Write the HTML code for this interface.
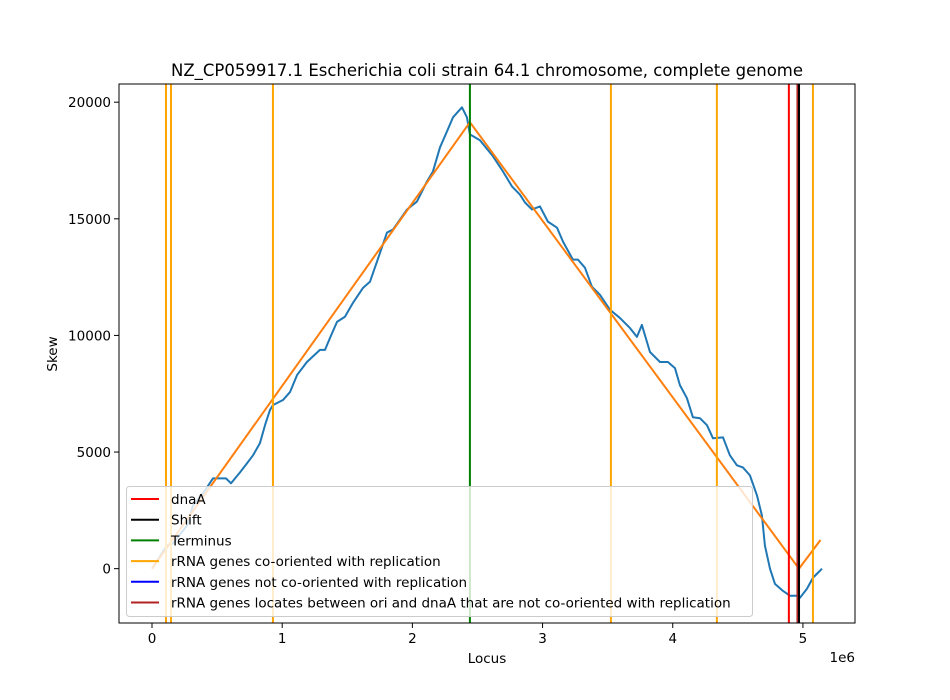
<!DOCTYPE html>
<html><head><meta charset="utf-8"><style>
body{margin:0;background:#fff;}
svg{display:block;font-family:"DejaVu Sans","Liberation Sans",sans-serif;}
</style></head><body>
<svg id="chart" width="950" height="700" viewBox="0 0 950 700" xmlns="http://www.w3.org/2000/svg">
<rect width="950" height="700" fill="#fff"/>
<text x="487" y="76" font-size="16.5" text-anchor="middle">NZ_CP059917.1 Escherichia coli strain 64.1 chromosome, complete genome</text>
<g id="plot"></g>
</svg>
<script>
// data (x in units of 1e6)
const skewX = [0,0.115,0.161,0.269,0.315,0.392,0.468,0.499,0.568,0.607,0.676,0.730,0.776,0.829,0.868,0.906,0.929,1.006,1.060,1.114,1.190,1.290,1.329,1.367,1.421,1.482,1.544,1.621,1.674,1.728,1.805,1.851,1.959,2.035,2.112,2.158,2.212,2.266,2.312,2.381,2.419,2.442,2.519,2.619,2.696,2.765,2.826,2.865,2.919,2.980,3.041,3.111,3.157,3.233,3.272,3.326,3.379,3.441,3.518,3.594,3.671,3.725,3.763,3.825,3.902,3.963,4.017,4.055,4.109,4.155,4.209,4.263,4.309,4.386,4.439,4.493,4.539,4.593,4.647,4.685,4.708,4.747,4.785,4.846,4.900,4.954,4.977,5.031,5.077,5.131,5.146];
const skewY = [0,990,1080,1850,2710,3230,3870,3870,3870,3660,4130,4520,4860,5380,6150,6800,7010,7230,7570,8300,8860,9380,9380,9890,10580,10800,11400,12040,12300,13160,14410,14540,15400,15740,16600,17030,18060,18750,19350,19780,19350,18620,18370,17680,17030,16390,16040,15700,15400,15530,14880,14620,14020,13250,13250,12900,12090,11740,11100,10750,10320,9940,10450,9290,8860,8860,8600,7870,7310,6490,6450,6150,5590,5630,4860,4430,4340,4000,3140,2280,990,0,-650,-950,-1160,-1160,-1250,-860,-390,-90,0];
const fitX = [0,2.442,4.970,5.135];
const fitY = [0,19140,0,1230];
const rrnaCo = [0.1075,0.146,0.929,3.525,4.339,5.077];
const dnaAPos = [4.892];
const shiftPos = [4.970];
const terminusPos = [2.442];
const xTicks = [0,1,2,3,4,5];
const yTicks = [0,5000,10000,15000,20000];
const legendLabels = ["dnaA","Shift","Terminus","rRNA genes co-oriented with replication","rRNA genes not co-oriented with replication","rRNA genes locates between ori and dnaA that are not co-oriented with replication"];
const legendColors = ["#ff0000","#000000","#008000","#ffa500","#0000ff","#b22222"];

const L=119,R=855,T=84,B=623;
const XMIN=-0.2535,XMAX=5.4,YMIN=-2330,YMAX=20780;
const sx=v=>L+(v-XMIN)/(XMAX-XMIN)*(R-L);
const sy=v=>B-(v-YMIN)/(YMAX-YMIN)*(B-T);
const NS="http://www.w3.org/2000/svg";
const g=document.getElementById('plot');
function mk(t,a,p){const e=document.createElementNS(NS,t);for(const k in a)e.setAttribute(k,a[k]);(p||g).appendChild(e);return e;}
function vline(x,c,nm){const e=mk('line',{x1:sx(x),x2:sx(x),y1:T,y2:B,stroke:c,'stroke-width':2});

}
mk('defs',{}).innerHTML='<clipPath id="cp"><rect x="'+L+'" y="'+T+'" width="'+(R-L)+'" height="'+(B-T)+'"/></clipPath>';
// curves
const blue=mk('polyline',{points:skewX.map((x,i)=>sx(x)+','+sy(skewY[i])).join(' '),fill:'none',stroke:'#1f77b4','stroke-width':2,'stroke-linejoin':'round','clip-path':'url(#cp)'});


const fit=mk('polyline',{points:fitX.map((x,i)=>sx(x)+','+sy(fitY[i])).join(' '),fill:'none',stroke:'#ff7f0e','stroke-width':2});


rrnaCo.forEach(x=>vline(x,'#ffa500','rrna-co-oriented-line'));
terminusPos.forEach(x=>vline(x,'#008000','terminus-line'));
dnaAPos.forEach(x=>vline(x,'#ff0000','dnaa-line'));
vline(shiftPos[0]-0.012,'#b22222','rrna-between-line');
shiftPos.forEach(x=>vline(x,'#000000','shift-line'));
// frame
const fr=mk('rect',{x:L,y:T,width:R-L,height:B-T,fill:'none',stroke:'#000','stroke-width':1});


xTicks.forEach(t=>{const x=sx(t);mk('line',{x1:x,x2:x,y1:B,y2:B+5,stroke:'#000'});
const tx=mk('text',{x:x,y:B+20,'font-size':13.5,'text-anchor':'middle'});tx.textContent=t;

});
yTicks.forEach(t=>{const y=sy(t);mk('line',{x1:L-5,x2:L,y1:y,y2:y,stroke:'#000'});
const tx=mk('text',{x:L-8,y:y+5,'font-size':13.5,'text-anchor':'end'});tx.textContent=t;

});
const xl=mk('text',{x:487,y:663,'font-size':13.5,'text-anchor':'middle'});xl.textContent='Locus';


const off=mk('text',{x:855,y:662,'font-size':13.5,'text-anchor':'end'});off.textContent='1e6';


const yl=mk('text',{x:0,y:0,'font-size':13.5,'text-anchor':'middle',transform:'translate(57,354) rotate(-90)'});yl.textContent='Skew';


// legend
const lg=mk('g',{});


mk('rect',{x:126.5,y:486.5,width:626,height:130,rx:3,fill:'#fff','fill-opacity':0.8,stroke:'#ccc'},lg);
legendLabels.forEach((s,i)=>{const y=499+i*20.7;
mk('line',{x1:131,x2:159,y1:y,y2:y,stroke:legendColors[i],'stroke-width':2},lg);
const t=mk('text',{x:171,y:y+5,'font-size':13.5},lg);t.textContent=s;

});
</script>
</body></html>
